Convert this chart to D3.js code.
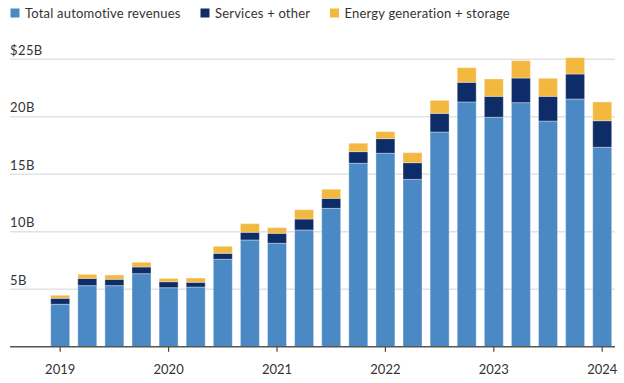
<!DOCTYPE html>
<html>
<head>
<meta charset="utf-8">
<script src="https://d3js.org/d3.v7.min.js"></script>
<style>
    body { margin: 0; background: #fff; }
    text { font-family: Lato, "Open Sans", sans-serif; fill: #333; }
</style>
</head>
<body>
<svg id="chart" width="624" height="383"></svg>
<script>
// quarterly revenue, $ billions (Q1 2019 .. Q1 2024)
var quarters = ["2019Q1","2019Q2","2019Q3","2019Q4","2020Q1","2020Q2","2020Q3","2020Q4",
    "2021Q1","2021Q2","2021Q3","2021Q4","2022Q1","2022Q2","2022Q3","2022Q4",
    "2023Q1","2023Q2","2023Q3","2023Q4","2024Q1"];
var automotive = [3.70,5.32,5.32,6.36,5.14,5.20,7.61,9.29,9.00,10.16,12.04,15.96,16.83,14.56,18.68,21.29,19.96,21.23,19.63,21.55,17.35];
var services   = [0.52,0.63,0.55,0.58,0.52,0.41,0.52,0.67,0.87,0.95,0.87,1.01,1.27,1.45,1.62,1.71,1.82,2.14,2.15,2.17,2.31];
var energy     = [0.26,0.35,0.37,0.41,0.29,0.37,0.61,0.75,0.49,0.81,0.79,0.73,0.61,0.87,1.13,1.27,1.51,1.51,1.57,1.42,1.63];
var yTicks = [5, 10, 15, 20, 25];
var yearTicks = ["2019Q1","2020Q1","2021Q1","2022Q1","2023Q1","2024Q1"];

var seriesNames = ["Total automotive revenues", "Services + other", "Energy generation + storage"];
var colors = ["#4a89c4", "#0e2c68", "#f3b840"];

var data = quarters.map(function (q, i) {
    return { q: q, auto: automotive[i], svc: services[i], energy: energy[i] };
});

var svg = d3.select("#chart");

var x = d3.scaleBand()
    .domain(quarters)
    .range([50.7, 611.7])
    .paddingInner(0.3)
    .paddingOuter(0);

var y = d3.scaleLinear()
    .domain([0, 25])
    .range([346.8, 59.3]);

// gridlines + y labels
svg.append("g").selectAll("line")
    .data(yTicks)
    .join("line")
    .attr("x1", 10).attr("x2", 615)
    .attr("y1", function (d) { return y(d); })
    .attr("y2", function (d) { return y(d); })
    .attr("stroke", "#e2e2e2")
    .attr("stroke-width", 1.5);

svg.append("g").selectAll("text")
    .data(yTicks)
    .join("text")
    .attr("x", 10)
    .attr("y", function (d) { return y(d) - 4.5; })
    .style("font-size", "13px")
    .style("letter-spacing", "0.4px")
    .text(function (d) { return d === 25 ? "$25B" : d + "B"; });

// stacked bars
var stack = d3.stack().keys(["auto", "svc", "energy"]);
var layers = stack(data);

svg.append("g").selectAll("g")
    .data(layers)
    .join("g")
    .attr("fill", function (d, i) { return colors[i]; })
    .selectAll("rect")
    .data(function (d) { return d; })
    .join("rect")
    .attr("x", function (d) { return x(d.data.q); })
    .attr("y", function (d) { return y(d[1]); })
    .attr("width", x.bandwidth())
    .attr("height", function (d) { return y(d[0]) - y(d[1]); })
    .attr("stroke", "rgba(255,255,255,0.35)")
    .attr("stroke-width", 1);

// x axis
var xAxis = svg.append("g")
    .attr("transform", "translate(0," + y(0) + ")")
    .call(d3.axisBottom(x)
        .tickValues(yearTicks)
        .tickSize(5)
        .tickSizeOuter(0)
        .tickFormat(function (d) { return d.slice(0, 4); }));
xAxis.select(".domain").remove();
xAxis.selectAll(".tick line").attr("stroke", "#444").attr("stroke-width", 1.2);
xAxis.selectAll(".tick text")
    .attr("y", 18)
    .attr("fill", "#333")
    .style("font-size", "13px")
    .style("font-family", "Lato, 'Open Sans', sans-serif");

svg.append("line")
    .attr("x1", 10).attr("x2", 615)
    .attr("y1", y(0)).attr("y2", y(0))
    .attr("stroke", "#555")
    .attr("stroke-width", 1.5);

// legend
var legendX = [10.5, 200.5, 330];
var legend = svg.append("g").selectAll("g")
    .data(seriesNames)
    .join("g")
    .attr("transform", function (d, i) { return "translate(" + legendX[i] + ",0)"; });
legend.append("rect")
    .attr("x", 0).attr("y", 8.5)
    .attr("width", 9).attr("height", 9)
    .attr("fill", function (d, i) { return colors[i]; });
legend.append("text")
    .attr("x", 14.5).attr("y", 18.3)
    .style("font-size", "13px")
    .style("letter-spacing", "0.2px")
    .text(function (d) { return d; });
</script>
</body>
</html>
